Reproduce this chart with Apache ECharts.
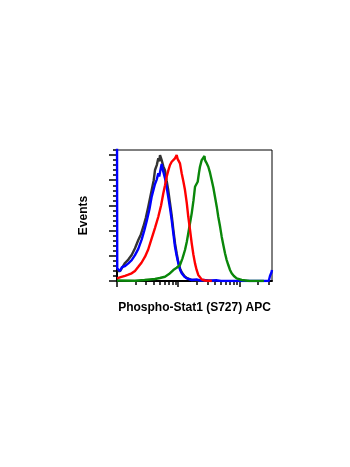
<!DOCTYPE html>
<html>
<head>
<meta charset="utf-8">
<script src="https://cdn.jsdelivr.net/npm/echarts@6/dist/echarts.min.js"></script>
<style>
    html,body{margin:0;padding:0;background:#fff;}
    #main{width:350px;height:467px;}
</style>
</head>
<body>
<div id="main"></div>
<script>
// x = log10 of APC intensity, y = events (scaled, top of axis = 104)
var blackX=[1.008,1.049,1.09,1.131,1.185,1.24,1.294,1.348,1.39,1.43,1.47,1.511,1.567,1.6,1.621,1.65,1.675,1.69,1.703,1.717,1.73,1.757,1.784,1.81,1.838,1.866,1.894,1.92,1.948,1.975,2.002,2.03,2.057,2.1,2.139,2.22,2.356,2.6];
var blackY=[7.9,7.9,11,14.3,17,20.6,26,32.5,37,43.1,50,59,72.2,80,88.1,92,97.4,95,100,98,96,91,88,80,72,62,52,41,30,22,15,10,7,4,2.4,0.8,0.4,0];

var blueX=[1.0,1.004,1.016,1.049,1.082,1.131,1.185,1.24,1.294,1.348,1.404,1.445,1.485,1.53,1.567,1.621,1.649,1.675,1.69,1.703,1.717,1.73,1.745,1.757,1.784,1.81,1.838,1.866,1.894,1.92,1.948,1.975,2.002,2.03,2.057,2.1,2.139,2.22,2.3,2.36,2.42,2.5,2.62,2.7,3.3,3.48,3.5,3.525,3.533];
var blueY=[120,10,8.7,7.9,11.1,11.9,14,16.5,20.5,25.5,33,40,47.5,57,67,77,80.5,85.5,83,84,90,92.9,89,88,81.7,75,66.7,58,48.4,38,27.2,20,14,9,6.1,3.5,2.1,0.8,1.2,0.4,0.8,0.3,0.6,0,0,0,4,7,8.7];

var redX=[1.0,1.06,1.131,1.185,1.24,1.294,1.348,1.4,1.458,1.51,1.567,1.62,1.675,1.72,1.757,1.785,1.812,1.84,1.866,1.894,1.92,1.948,1.962,1.975,1.99,2.002,2.029,2.057,2.085,2.111,2.14,2.165,2.195,2.221,2.248,2.275,2.3,2.328,2.384,2.438,2.55];
var redY=[2.1,3,4,5,6.1,8,11.3,14.5,19.3,25,33.9,42,51,60,69.6,76,82.8,88,92.1,94.7,94.4,97.4,96,100,97,96,93.4,85.5,79,72.2,62,51,40,29.9,21,14,9,4.8,1.3,0.4,0];

var greenX=[1.0,1.294,1.45,1.621,1.7,1.784,1.85,1.92,1.975,2.029,2.07,2.111,2.14,2.165,2.19,2.221,2.25,2.275,2.3,2.319,2.34,2.356,2.37,2.384,2.41,2.43,2.438,2.46,2.492,2.52,2.547,2.575,2.601,2.63,2.655,2.685,2.711,2.74,2.765,2.79,2.819,2.845,2.874,2.91,2.956,3.038,3.17,3.4];
var greenY=[0.4,0.2,0.8,1.6,2.4,3.4,5.5,8.7,10.5,12.7,18,24.6,31,37.9,45,53.7,64,74.8,76,78.8,86,90.7,92,96,97.4,99.2,96,94,90.7,86,80.2,74,66.9,59,51,43,35.2,28,22,17,12.7,9,6.1,4,2.1,0.8,0,0];

var yMajor=[0,20,40,60,80,100];
var yMinor=[4,8,12,16,24,28,32,36,44,48,52,56,64,68,72,76,84,88,92,96,104];
var xMajor=[1,2,3];
var xMinor=[];
for(var d=1;d<=3;d++){
    for(var k=2;k<=9;k++){
        var v=d+Math.log10(k);
        if(v<=3.533) xMinor.push(v);
    }
}

function pairs(xs,ys){
    var out=[];
    for(var i=0;i<xs.length;i++){
        out.push([xs[i],ys[i]]);
    }
    return out;
}

function line(name,xs,ys,color){
    return {
        name:name,
        type:'line',
        data:pairs(xs,ys),
        showSymbol:false,
        symbol:'none',
        clip:true,
        animation:false,
        lineStyle:{color:color,width:2.4},
        xAxisIndex:0,
        yAxisIndex:0
    };
}

var tickAxisX=function(values,len,main){
    return {
        type:'value',
        position:'bottom',
        min:1,
        max:3.533,
        axisLine:{show:!!main,onZero:false,lineStyle:{color:'#000',width:2}},
        axisTick:{show:true,inside:false,length:len,customValues:values,lineStyle:{color:'#000',width:1.5}},
        axisLabel:{show:false},
        splitLine:{show:false},
        name:main?'Phospho-Stat1 (S727) APC':'',
        nameLocation:'middle',
        nameGap:21,
        nameTextStyle:{fontFamily:'Liberation Sans',fontWeight:'bold',fontSize:12,color:'#000'}
    };
};
var tickAxisY=function(values,len,main){
    return {
        type:'value',
        position:'left',
        min:0,
        max:104,
        axisLine:{show:!!main,onZero:false,lineStyle:{color:'#000',width:2}},
        axisTick:{show:true,inside:false,length:len,customValues:values,lineStyle:{color:'#000',width:1.5}},
        axisLabel:{show:false},
        splitLine:{show:false},
        name:main?'Events':'',
        nameLocation:'middle',
        nameGap:27,
        nameTextStyle:{fontFamily:'Liberation Sans',fontWeight:'bold',fontSize:12,color:'#000'}
    };
};

var option={
    animation:false,
    backgroundColor:'#fff',
    grid:{
        left:117,
        top:150,
        width:155,
        height:131,
        show:true,
        borderColor:'#000',
        borderWidth:1,
        backgroundColor:'transparent'
    },
    xAxis:[tickAxisX(xMajor,6,true),tickAxisX(xMinor,4,false)],
    yAxis:[tickAxisY(yMajor,8,true),tickAxisY(yMinor,4,false)],
    series:[
        line('isotype',blackX,blackY,'#333333'),
        line('blue',blueX,blueY,'#0000ff'),
        line('green',greenX,greenY,'#0a870a'),
        line('red',redX,redY,'#ff0000')
    ]
};

var myChart=echarts.init(document.getElementById('main'),null,{renderer:'canvas'});
myChart.setOption(option);
</script>
</body>
</html>
